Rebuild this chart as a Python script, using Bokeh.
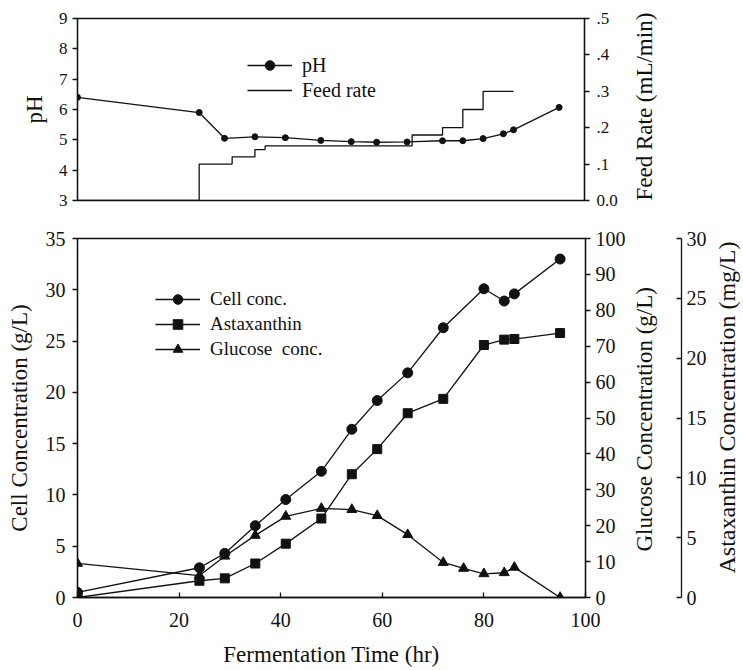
import math
from bokeh.plotting import figure
from bokeh.layouts import column
from bokeh.models import (Range1d, LinearAxis, FixedTicker, CustomJSTickFormatter,
                          Legend, LegendItem)
from bokeh.embed import file_html
from bokeh.resources import INLINE

# ---------------- data ----------------
ph_time = [0, 24, 29, 35, 41, 48, 54, 59, 65, 72, 76, 80, 84, 86, 95]
ph_value = [6.4, 5.9, 5.05, 5.1, 5.07, 4.98, 4.94, 4.92, 4.93, 4.97, 4.97, 5.04, 5.2, 5.33, 6.07]
feed_time = [0, 24, 30.5, 35, 37, 66, 72, 76, 80, 86]
feed_rate = [0, 0.1, 0.12, 0.14, 0.15, 0.18, 0.2, 0.25, 0.3, 0.3]

time = [0, 24, 29, 35, 41, 48, 54, 59, 65, 72, 80, 84, 86, 95]
cell_conc = [0.5, 2.9, 4.3, 7.0, 9.55, 12.3, 16.4, 19.2, 21.9, 26.3, 30.1, 28.9, 29.6, 33.0]
astaxanthin = [0.0, 1.4, 1.6, 2.84, 4.5, 6.6, 10.3, 12.4, 15.4, 16.6, 21.1, 21.55, 21.6, 22.1]
glu_time = [0, 24, 29, 35, 41, 48, 54, 59, 65, 72, 76, 80, 84, 86, 95]
glucose = [9.5, 6.1, 11.5, 17.3, 22.6, 24.8, 24.5, 22.8, 17.5, 9.75, 8.1, 6.6, 6.9, 8.4, 0.0]

FONT = "Liberation Serif"
TITLE_FS = "23px"
INK = "#111111"
LW = 1.3
NB = "\u00a0"


def style_axis(ax, tick_fs, tick_in=0, tick_out=5, lab_standoff=7, title_standoff=12):
    ax.major_label_text_font = FONT
    ax.major_label_text_font_size = tick_fs
    ax.major_label_text_color = INK
    ax.axis_label_text_font = FONT
    ax.axis_label_text_font_size = TITLE_FS
    ax.axis_label_text_font_style = "normal"
    ax.axis_label_text_color = INK
    ax.axis_line_color = INK
    ax.axis_line_width = LW
    ax.major_tick_line_color = INK
    ax.major_tick_line_width = LW
    ax.major_tick_in = tick_in
    ax.major_tick_out = tick_out
    ax.minor_tick_line_color = None
    ax.major_label_standoff = lab_standoff
    ax.axis_label_standoff = title_standoff


def title_axis(p, text, range_name, standoff, font_size=TITLE_FS):
    """An axis that only carries a bottom-to-top title on the right side."""
    ax = LinearAxis(y_range_name=range_name, ticker=FixedTicker(ticks=[]), axis_label=text)
    ax.axis_line_color = None
    ax.major_tick_line_color = None
    ax.minor_tick_line_color = None
    ax.major_tick_in = 0
    ax.major_tick_out = 0
    ax.major_label_standoff = 0
    ax.axis_label_standoff = standoff
    ax.axis_label_text_font = FONT
    ax.axis_label_text_font_size = font_size
    ax.axis_label_text_font_style = "normal"
    ax.axis_label_text_color = INK
    ax.axis_label_orientation = math.pi / 2
    ax.axis_label_align = "start"
    p.add_layout(ax, "right")
    return ax


# ---------------- top panel ----------------
p1 = figure(frame_width=507, frame_height=182, x_range=Range1d(0, 100), y_range=Range1d(3, 9),
            output_backend="svg", toolbar_location=None,
            min_border_left=77, min_border_right=110, min_border_top=18, min_border_bottom=28)
p1.extra_y_ranges = {"feed": Range1d(0, 0.5)}
p1.grid.visible = False
p1.xaxis.visible = False
p1.outline_line_color = INK
p1.outline_line_width = LW

p1.yaxis.ticker = FixedTicker(ticks=[3, 4, 5, 6, 7, 8, 9])
p1.yaxis.axis_label = "pH"
style_axis(p1.yaxis[0], "17px", tick_out=5, lab_standoff=5, title_standoff=9)

feed_axis = LinearAxis(y_range_name="feed",
                       ticker=FixedTicker(ticks=[0, 0.1, 0.2, 0.3, 0.4, 0.5]),
                       formatter=CustomJSTickFormatter(code="""
                           if (tick == 0) { return '0.0'; }
                           return tick.toFixed(1).replace(/^0/, '');
                       """))
style_axis(feed_axis, "17px", tick_out=5, lab_standoff=7)
p1.add_layout(feed_axis, "right")
title_axis(p1, "Feed Rate (mL/min)", "feed", 24)

ph_line = p1.line(ph_time, ph_value, line_color=INK, line_width=LW)
ph_pts = p1.scatter(ph_time, ph_value, marker="circle", size=6, color=INK)
feed_r = p1.step(feed_time, feed_rate, mode="after", y_range_name="feed",
                 line_color=INK, line_width=LW)

leg1 = Legend(items=[LegendItem(label="pH", renderers=[ph_line, ph_pts]),
                     LegendItem(label="Feed rate", renderers=[feed_r])],
              location=(170, 98), border_line_color=None, background_fill_alpha=0,
              padding=0, margin=0, spacing=1, glyph_width=45, glyph_height=24,
              label_height=24, label_standoff=10,
              label_text_font=FONT, label_text_font_size="20px", label_text_color=INK)
p1.add_layout(leg1, "center")

# ---------------- bottom panel ----------------
p2 = figure(frame_width=508, frame_height=359, x_range=Range1d(0, 100), y_range=Range1d(0, 35),
            output_backend="svg", toolbar_location=None,
            min_border_left=77, min_border_right=158, min_border_top=10, min_border_bottom=70)
p2.extra_y_ranges = {"glu": Range1d(0, 100), "asta": Range1d(0, 30)}
p2.grid.visible = False
p2.outline_line_color = INK
p2.outline_line_width = LW

p2.xaxis.ticker = FixedTicker(ticks=[0, 20, 40, 60, 80, 100])
p2.xaxis.axis_label = "Fermentation Time (hr)"
style_axis(p2.xaxis[0], "20px", tick_in=5, tick_out=0, lab_standoff=15, title_standoff=12)

p2.yaxis.ticker = FixedTicker(ticks=[0, 5, 10, 15, 20, 25, 30, 35])
p2.yaxis.axis_label = "Cell Concentration (g/L)"
style_axis(p2.yaxis[0], "20px", tick_out=5, lab_standoff=7, title_standoff=11)

glu_axis = LinearAxis(y_range_name="glu", ticker=FixedTicker(ticks=list(range(0, 101, 10))))
style_axis(glu_axis, "20px", tick_out=5, lab_standoff=5)
p2.add_layout(glu_axis, "right")
title_axis(p2, NB * 8 + "Glucose Concentration (g/L)", "glu", 16)

spacer_axis = LinearAxis(y_range_name="glu", ticker=FixedTicker(ticks=[]), axis_label=" ")
spacer_axis.axis_line_color = None
spacer_axis.major_tick_line_color = None
spacer_axis.minor_tick_line_color = None
spacer_axis.major_tick_out = 0
spacer_axis.major_tick_in = 0
spacer_axis.major_label_standoff = 0
spacer_axis.axis_label_standoff = 5
spacer_axis.axis_label_text_font_size = "1px"
p2.add_layout(spacer_axis, "right")

asta_axis = LinearAxis(y_range_name="asta", ticker=FixedTicker(ticks=[0, 5, 10, 15, 20, 25, 30]))
style_axis(asta_axis, "20px", tick_in=5, tick_out=0, lab_standoff=5)
p2.add_layout(asta_axis, "right")
title_axis(p2, NB * 4 + "Astaxanthin Concentration (mg/L)", "asta", 17, font_size="24px")

c_line = p2.line(time, cell_conc, line_color=INK, line_width=LW)
c_pts = p2.scatter(time, cell_conc, marker="circle", size=10, color=INK)
a_line = p2.line(time, astaxanthin, y_range_name="asta", line_color=INK, line_width=LW)
a_pts = p2.scatter(time, astaxanthin, y_range_name="asta", marker="square", size=9, color=INK)
g_line = p2.line(glu_time, glucose, y_range_name="glu", line_color=INK, line_width=LW)
g_pts = p2.scatter(glu_time, glucose, y_range_name="glu", marker="triangle", size=10, color=INK)

leg2 = Legend(items=[LegendItem(label="Cell conc.", renderers=[c_line, c_pts]),
                     LegendItem(label="Astaxanthin", renderers=[a_line, a_pts]),
                     LegendItem(label="Glucose  conc.", renderers=[g_line, g_pts])],
              location=(78, 236), border_line_color=None, background_fill_alpha=0,
              padding=0, margin=0, spacing=1, glyph_width=45, glyph_height=24,
              label_height=24, label_standoff=10,
              label_text_font=FONT, label_text_font_size="19px", label_text_color=INK)
p2.add_layout(leg2, "center")

layout = column(p1, p2, spacing=0)
open("out.html", "w").write(file_html(layout, INLINE))
